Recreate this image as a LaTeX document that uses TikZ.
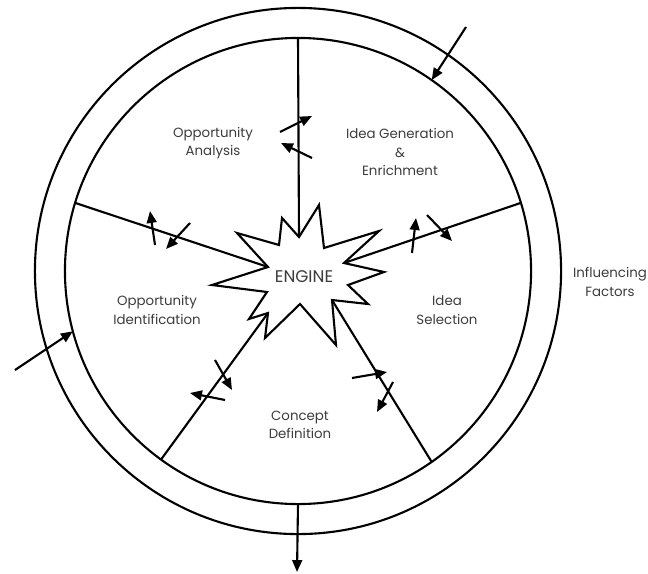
\documentclass[tikz,border=0pt]{standalone}
\usepackage{fontspec}
\setmainfont{Poppins}
\usepackage{xcolor}
\usetikzlibrary{arrows.meta,positioning,calc}
\definecolor{linedark}{RGB}{0,0,0}
\definecolor{txtgray}{RGB}{60,60,60}
\tikzset{
  ring/.style={circle, draw=linedark, line width=1.5pt,
    inner sep=0pt, outer sep=0pt},
  spoke/.style={line width=1.5pt, color=linedark},
  flow/.style={-{Triangle[length=8.5pt,width=7pt]}, line width=1.5pt, color=linedark},
  lbl/.style={align=center, text=txtgray,
    font=\fontsize{9.5}{13.1}\selectfont}
}

\begin{document}
\begin{tikzpicture}[x=0.025cm, y=-0.025cm]
\useasboundingbox (0,0) rectangle (648,573);

%% ── RINGS ───────────────────────────────────────────────────────────
\coordinate (ctr) at (298,271);
\node[ring, minimum size=13.15cm] (outer) at (ctr) {};
\node[ring, minimum size=11.65cm] (inner) at (ctr) {};

%% ── ENGINE star ─────────────────────────────────────────────────────
\coordinate (sTop) at (299,237);
\coordinate (sUR)  at (344,263);
\coordinate (sLR)  at (332,300);
\coordinate (sLL)  at (268,313);
\coordinate (sUL)  at (268,267);
\draw[spoke, fill=white] (sTop) -- (319,205) -- (324,248) -- (379,231)
  -- (sUR) -- (384,272) -- (348,285) -- (368,304) -- (sLR)
  -- (336,345) -- (300,304) -- (265,338) -- (sLL) -- (249,319)
  -- (267,292) -- (212,285) -- (sUL) -- (237,233) -- (279,245)
  -- (282,218) -- cycle;
\node[lbl, font=\fontsize{12}{14}\selectfont] (engine) at (304,277) {ENGINE};

%% ── SPOKES ──────────────────────────────────────────────────────────
\draw[spoke] (inner.90)  -- (sTop);
\draw[spoke] (inner.17)  -- (sUR);
\draw[spoke] (inner.163) -- (sUL);
\draw[spoke] (inner.234) -- (sLL);
\draw[spoke] (inner.305) -- (sLR);

%% ── PHASE labels ────────────────────────────────────────────────────
\node[lbl] (oppan)   at (213,143) {Opportunity\\Analysis};
\node[lbl] (ideagen) at (400,152) {Idea Generation\\\&\\Enrichment};
\node[lbl] (oppid)   at (157,310) {Opportunity\\Identification};
\node[lbl] (ideasel) at (447,310) {Idea\\Selection};
\node[lbl] (concept) at (300,425) {Concept\\Definition};
\node[lbl] (factors) at (610,282) {Influencing\\Factors};

%% ── FLOW arrows across spokes ───────────────────────────────────────
\draw[flow] (280,132) -- (312,116);
\draw[flow] (312,158) -- (281,143);
\draw[flow] (155,245) -- (150,211);
\draw[flow] (190,223) -- (166,249);
\draw[flow] (412,253) -- (416,218);
\draw[flow] (427,215) -- (452,241);
\draw[flow] (215,360) -- (232,390);
\draw[flow] (225,400) -- (190,393);
\draw[flow] (352,378) -- (387,372);
\draw[flow] (393,382) -- (377,412);

%% ── OUTSIDE influences ──────────────────────────────────────────────
\coordinate (inTR) at (466,27);
\coordinate (inL)  at (15,370);
\coordinate (outB) at (297,572);
\draw[flow] (inTR) -- (inner.55);
\draw[flow] (inL)  -- (inner.195);
\draw[flow] (inner.270) -- (outB);

\end{tikzpicture}
\end{document}
